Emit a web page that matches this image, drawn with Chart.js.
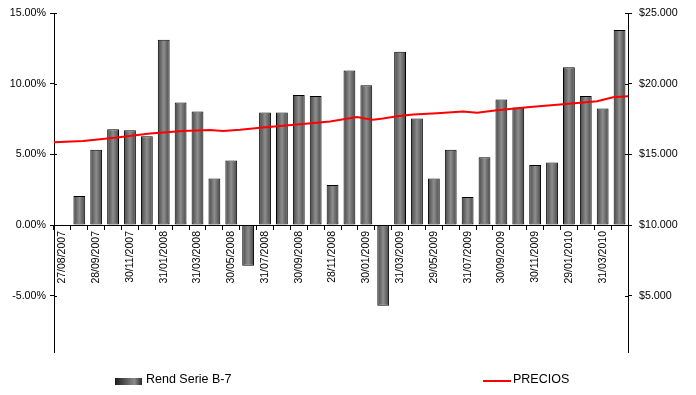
<!DOCTYPE html>
<html>
<head>
<meta charset="utf-8">
<script src="https://cdn.jsdelivr.net/npm/chart.js@4/dist/chart.umd.min.js"></script>
<style>
  body { margin: 0; background: #fff; }
  #wrap { position: relative; width: 696px; height: 395px; font-family: "Liberation Sans", Arial, sans-serif; }
  .leg { position: absolute; font-size: 12.5px; line-height: 12.5px; color: #000; white-space: nowrap; }
  .box { position: absolute; left: 115px; top: 378px; width: 27px; height: 7px;
         background: linear-gradient(to right, #1c1c1c, #8a8a8a 72%, #2a2a2a); }
  .redline { position: absolute; left: 483px; top: 380px; width: 28px; height: 2px; background: #ff0000; }
</style>
</head>
<body>
<div id="wrap">
  <canvas id="chart" width="696" height="395"></canvas>
  <div class="box"></div>
  <div class="leg" style="left:146px; top:373px;">Rend Serie B-7</div>
  <div class="redline"></div>
  <div class="leg" style="left:513px; top:373px;">PRECIOS</div>
</div>
<script>
// month-end dates (categories)
const dateLabels = [
  '27/08/2007', '31/08/2007', '28/09/2007', '31/10/2007', '30/11/2007', '31/12/2007',
  '31/01/2008', '29/02/2008', '31/03/2008', '30/04/2008', '30/05/2008', '30/06/2008',
  '31/07/2008', '29/08/2008', '30/09/2008', '31/10/2008', '28/11/2008', '31/12/2008',
  '30/01/2009', '27/02/2009', '31/03/2009', '30/04/2009', '29/05/2009', '30/06/2009',
  '31/07/2009', '31/08/2009', '30/09/2009', '30/10/2009', '30/11/2009', '31/12/2009',
  '29/01/2010', '26/02/2010', '31/03/2010', '30/04/2010'
];

// monthly return (%), first date has none
const rendValues = [
  null, 2.05, 5.33, 6.79, 6.72, 6.30, 13.14, 8.68, 8.04, 3.30, 4.58, -2.88,
  7.97, 7.97, 9.22, 9.15, 2.83, 10.95, 9.91, -5.73, 12.29, 7.55, 3.30, 5.33,
  1.98, 4.81, 8.89, 8.33, 4.25, 4.44, 11.18, 9.15, 8.26, 13.82
];

// price series: position in months from the first date, and price
const priceMonth = [
  0, 1.72, 3.73, 5.69, 7.64, 9.24, 10.01, 11.02, 12.38, 14.40, 16.35, 17.95, 18.42,
  18.90, 19.49, 20.32, 21.27, 22.69, 24.23, 25.06, 26.24, 28.20, 30.15, 32.17, 33.12, 34
];
const priceValues = [
  15873, 15965, 16205, 16488, 16672, 16743, 16672, 16757, 16913, 17125, 17337, 17656, 17550,
  17465, 17550, 17712, 17833, 17925, 18052, 17960, 18137, 18370, 18562, 18774, 19057, 19128
];

const pctTicks = [-5, 0, 5, 10, 15];
const priceTicks = [5000, 10000, 15000, 20000, 25000];

const FONT = 'Liberation Sans, Arial, sans-serif';

function barFill(ctx) {
  const chart = ctx.chart;
  const xs = chart.scales.x;
  if (!xs || !xs.width || ctx.type !== 'data') return '#6a6a6a';
  const cx = xs.getPixelForValue(ctx.dataIndex);
  const half = xs.width / dateLabels.length * 0.35;
  const g = chart.ctx.createLinearGradient(cx - half, 0, cx + half, 0);
  g.addColorStop(0, '#454545');
  g.addColorStop(0.5, '#8e8e8e');
  g.addColorStop(1, '#454545');
  return g;
}

function money(v) {
  return '$' + String(v).replace(/\B(?=(\d{3})+(?!\d))/g, '.');
}

// tick marks crossing the value axes
const innerTicks = {
  id: 'innerTicks',
  afterDraw(chart) {
    const c = chart.ctx;
    c.save();
    c.strokeStyle = '#000';
    c.lineWidth = 1;
    ['y', 'yp'].forEach(id => {
      const s = chart.scales[id];
      const x = id === 'y' ? chart.chartArea.left : chart.chartArea.right;
      const dir = id === 'y' ? 1 : -1;
      s.ticks.forEach(t => {
        const py = Math.round(s.getPixelForValue(t.value)) + 0.5;
        c.beginPath();
        c.moveTo(x, py);
        c.lineTo(x + dir * 3, py);
        c.stroke();
      });
    });
    c.restore();
  }
};

new Chart(document.getElementById('chart'), {
  type: 'bar',
  data: {
    labels: dateLabels,
    datasets: [
      {
        type: 'bar',
        label: 'Rend Serie B-7',
        data: rendValues,
        xAxisID: 'x',
        yAxisID: 'y',
        backgroundColor: barFill,
        borderColor: '#000',
        borderWidth: 1,
        borderSkipped: false,
        grouped: false,
        barPercentage: 0.7,
        categoryPercentage: 1,
        order: 1
      },
      {
        type: 'line',
        label: 'PRECIOS',
        data: priceMonth.map((m, i) => ({ x: m, y: priceValues[i] })),
        xAxisID: 'xp',
        yAxisID: 'yp',
        borderColor: '#ff0000',
        borderWidth: 2,
        pointRadius: 0,
        tension: 0,
        order: 0
      }
    ]
  },
  options: {
    responsive: false,
    animation: false,
    layout: { padding: { top: 13, bottom: 43, left: 0, right: 0 } },
    plugins: { legend: { display: false }, tooltip: { enabled: false } },
    scales: {
      x: {
        type: 'category',
        position: { y: 0 },
        grid: { offset: true, drawOnChartArea: false, tickLength: 4, color: '#000' },
        border: { color: '#000', width: 1 },
        ticks: {
          autoSkip: false,
          minRotation: 90,
          maxRotation: 90,
          padding: 2,
          color: '#000',
          font: { family: FONT, size: 10.5 },
          callback: (v, i) => (i % 2 === 0 ? dateLabels[i] : '')
        }
      },
      xp: { type: 'linear', display: false, offset: false, min: 0, max: dateLabels.length },
      y: {
        position: 'left',
        min: -9,
        max: 15,
        afterBuildTicks: s => { s.ticks = pctTicks.map(v => ({ value: v })); },
        afterFit: s => { s.width = 54; },
        grid: { drawOnChartArea: false, tickLength: 4, color: '#000' },
        border: { color: '#000', width: 1 },
        ticks: {
          padding: 4,
          color: '#000',
          font: { family: FONT, size: 10.7 },
          callback: v => v.toFixed(2) + '%'
        }
      },
      yp: {
        position: 'right',
        min: 1000,
        max: 25000,
        afterBuildTicks: s => { s.ticks = priceTicks.map(v => ({ value: v })); },
        afterFit: s => { s.width = 68; },
        grid: { drawOnChartArea: false, tickLength: 4, color: '#000' },
        border: { color: '#000', width: 1 },
        ticks: {
          padding: 7,
          color: '#000',
          font: { family: FONT, size: 10.7 },
          callback: v => money(v)
        }
      }
    }
  },
  plugins: [innerTicks]
});
</script>
</body>
</html>
